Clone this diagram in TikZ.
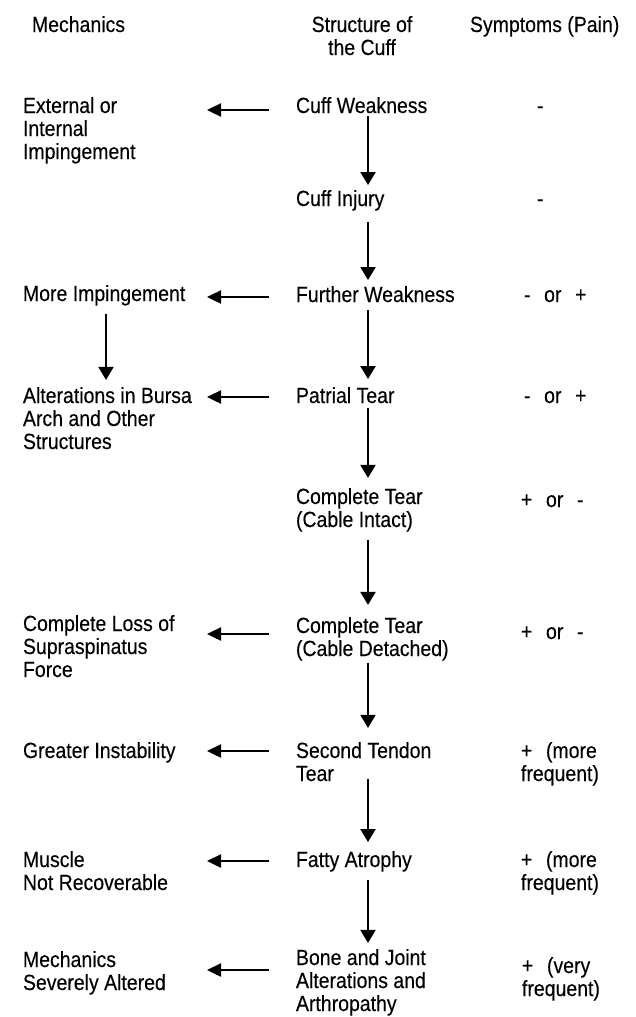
\documentclass[tikz,border=0pt]{standalone}
\usepackage{fontspec}
\setmainfont{Liberation Sans}[FakeStretch=0.885,FakeBold=0.25]
\usetikzlibrary{arrows.meta}
\newcommand{\ml}[1]{\begin{tabular}[t]{@{}l@{}}#1\end{tabular}}
\newcommand{\mc}[1]{\begin{tabular}[t]{@{}c@{}}#1\end{tabular}}
\newcommand{\gp}{\hspace{0.62em}}
\begin{document}
\begin{tikzpicture}[x=1pt,y=-1pt,
  txt/.style={inner sep=0pt, outer sep=0pt, anchor=base west, font=\fontsize{22}{23}\selectfont},
  hdr/.style={inner sep=0pt, outer sep=0pt, anchor=base, font=\fontsize{22}{23}\selectfont},
  varr/.style={line width=2pt, -{Triangle[length=13pt,width=15pt]}},
  harr/.style={line width=2.4pt, -{Triangle[length=14pt,width=13pt]}}]
\useasboundingbox (0,0) rectangle (636,1017);
\coordinate (mx) at (368,0);
\coordinate (lx) at (106,0);
% headers
\node[txt] (hmech) at (32,32) {Mechanics};
\node[hdr] (hstruct) at (362,32) {\mc{Structure of\\the Cuff}};
\node[txt] (hsymp) at (470,32) {Symptoms (Pain)};
% middle column
\node[txt] (cw) at (296,113) {Cuff Weakness};
\node[txt] (ci) at (296,206) {Cuff Injury};
\node[txt] (fw) at (296,302) {Further Weakness};
\node[txt] (pt) at (296,403) {Patrial Tear};
\node[txt] (cti) at (296,504) {\ml{Complete Tear\\(Cable Intact)}};
\node[txt] (ctd) at (296,633) {\ml{Complete Tear\\(Cable Detached)}};
\node[txt] (st) at (296,758) {\ml{Second Tendon\\Tear}};
\node[txt] (fa) at (296,867) {Fatty Atrophy};
\node[txt] (bj) at (296,965) {\ml{Bone and Joint\\Alterations and\\Arthropathy}};
% left column
\node[txt] (ext) at (23,113) {\ml{External or\\Internal\\Impingement}};
\node[txt] (mi) at (23,301) {More Impingement};
\node[txt] (alt) at (23,403) {\ml{Alterations in Bursa\\Arch and Other\\Structures}};
\node[txt] (cls) at (23,631) {\ml{Complete Loss of\\Supraspinatus\\Force}};
\node[txt] (gi) at (23,758) {Greater Instability};
\node[txt] (mnr) at (23,867) {\ml{Muscle\\Not Recoverable}};
\node[txt] (msa) at (23,967) {\ml{Mechanics\\Severely Altered}};
% right column
\node[txt] (s1) at (537,113) {-};
\node[txt] (s2) at (537,206) {-};
\node[txt] (s3) at (524,302) {-\gp or\gp +};
\node[txt] (s4) at (524,403) {-\gp or\gp +};
\node[txt] (s5) at (521,507) {+\gp or\gp -};
\node[txt] (s6) at (521,639) {+\gp or\gp -};
\node[txt] (s7) at (521,758) {\ml{+\gp (more\\frequent)}};
\node[txt] (s8) at (521,867) {\ml{+\gp (more\\frequent)}};
\node[txt] (s9) at (522,973) {\ml{+\gp (very\\frequent)}};
% vertical arrows
\draw[varr, shorten <=3pt, shorten >=5pt] (cw.south -| mx) -- (ci.north -| mx);
\draw[varr, shorten <=11pt, shorten >=6pt] (ci.south -| mx) -- (fw.north -| mx);
\draw[varr, shorten <=8pt, shorten >=8pt] (fw.south -| mx) -- (pt.north -| mx);
\draw[varr, shorten <=5pt, shorten >=10pt] (pt.south -| mx) -- (cti.north -| mx);
\draw[varr, shorten <=6pt, shorten >=12pt] (cti.south -| mx) -- (ctd.north -| mx);
\draw[varr, shorten <=0pt, shorten >=14pt] (ctd.south -| mx) -- (st.north -| mx);
\draw[varr, shorten <=-9pt, shorten >=9pt] (st.south -| mx) -- (fa.north -| mx);
\draw[varr, shorten <=8pt, shorten >=6pt] (fa.south -| mx) -- (bj.north -| mx);
\draw[varr, shorten <=8pt, shorten >=7pt] (mi.south -| lx) -- (alt.north -| lx);
% horizontal arrows
\draw[harr] (cw.base west) ++(-27,-3) -- ++(-62,0);
\draw[harr] (fw.base west) ++(-27,-5) -- ++(-62,0);
\draw[harr] (pt.base west) ++(-27,-6) -- ++(-62,0);
\draw[harr] (ctd.base west) ++(-27,1) -- ++(-62,0);
\draw[harr] (st.base west) ++(-27,-7) -- ++(-62,0);
\draw[harr] (fa.base west) ++(-27,-6) -- ++(-62,0);
\draw[harr] (bj.base west) ++(-27,5) -- ++(-62,0);
\end{tikzpicture}
\end{document}
